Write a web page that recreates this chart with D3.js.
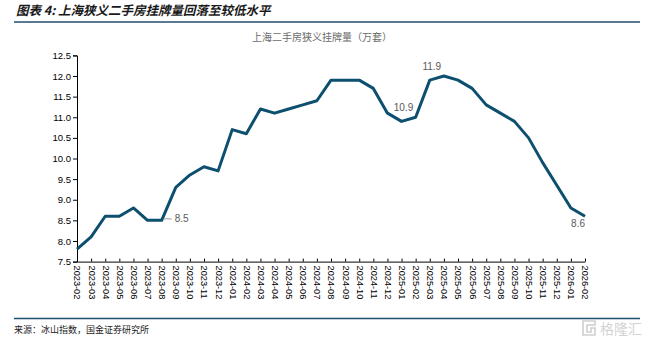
<!DOCTYPE html>
<html>
<head>
<meta charset="utf-8">
<script src="https://cdn.jsdelivr.net/npm/d3@7"></script>
<style>
  html, body { margin: 0; padding: 0; background: #fff; }
  svg { display: block; }
</style>
</head>
<body>
<svg id="chart" width="654" height="344"></svg>
<script>
// Monthly listing counts, Shanghai second-hand homes (10k units)
const months = [
  "2023-02","2023-03","2023-04","2023-05","2023-06","2023-07","2023-08","2023-09","2023-10","2023-11","2023-12",
  "2024-01","2024-02","2024-03","2024-04","2024-05","2024-06","2024-07","2024-08","2024-09","2024-10","2024-11","2024-12",
  "2025-01","2025-02","2025-03","2025-04","2025-05","2025-06","2025-07","2025-08","2025-09","2025-10","2025-11","2025-12",
  "2026-01","2026-02"
];
const listings = [
  7.8, 8.1, 8.6, 8.6, 8.8, 8.5, 8.5, 9.3, 9.6, 9.8, 9.7,
  10.7, 10.6, 11.2, 11.1, 11.2, 11.3, 11.4, 11.9, 11.9, 11.9, 11.7, 11.1,
  10.9, 11.0, 11.9, 12.0, 11.9, 11.7, 11.3, 11.1, 10.9, 10.5, 9.9, 9.35,
  8.8, 8.6
];
const yTicks = [7.5, 8.0, 8.5, 9.0, 9.5, 10.0, 10.5, 11.0, 11.5, 12.0, 12.5];
// Months that carry a value label
const labelledMonths = ["2023-08", "2025-01", "2025-03", "2026-02"];

const titleText = "图表 4: 上海狭义二手房挂牌量回落至较低水平";
const seriesName = "上海二手房狭义挂牌量（万套）";
const sourceText = "来源：冰山指数，国金证券研究所";

const svg = d3.select("#chart");
const cjk = "'Noto Sans CJK SC', 'Noto Sans', sans-serif";
const latin = "'Liberation Sans', Arial, sans-serif";

const plot = { left: 77, right: 585, top: 55.4, bottom: 261.6 };

const x = d3.scalePoint().domain(months).range([plot.left, plot.right]);
const y = d3.scaleLinear().domain([7.5, 12.5]).range([plot.bottom, plot.top]);

// Header
svg.append("text")
  .attr("x", 16).attr("y", 14.5)
  .attr("font-family", cjk).attr("font-size", 12.5)
  .attr("font-weight", "bold").attr("font-style", "italic")
  .attr("fill", "#1a1a1a")
  .text(titleText);
svg.append("line")
  .attr("x1", 14).attr("x2", 640).attr("y1", 22).attr("y2", 22)
  .attr("stroke", "#1f4e6e").attr("stroke-width", 1.6);

svg.append("text")
  .attr("x", 322).attr("y", 40.5)
  .attr("text-anchor", "middle")
  .attr("font-family", cjk).attr("font-size", 10)
  .attr("fill", "#6b6b6b")
  .text(seriesName);

// Y axis
const yAxis = svg.append("g")
  .attr("transform", `translate(${plot.left},0)`)
  .call(d3.axisLeft(y).tickValues(yTicks).tickFormat(d3.format(".1f")).tickSize(4).tickPadding(2));
yAxis.select(".domain").attr("stroke", "#000").attr("stroke-width", 1);
yAxis.selectAll(".tick line").attr("stroke", "#000");
yAxis.selectAll(".tick text")
  .attr("font-family", latin).attr("font-size", 9.5).attr("fill", "#000");

// X axis: short inward ticks, labels rotated to read downward
const xAxis = svg.append("g")
  .attr("transform", `translate(0,${plot.bottom})`)
  .call(d3.axisBottom(x).tickSizeInner(-3).tickSizeOuter(0));
xAxis.select(".domain").attr("stroke", "#000").attr("stroke-width", 1);
xAxis.selectAll(".tick line").attr("stroke", "#000");
xAxis.selectAll(".tick text")
  .attr("font-family", latin).attr("font-size", 9.2).attr("fill", "#000")
  .attr("text-anchor", "start")
  .attr("transform", "rotate(90)")
  .attr("x", 4).attr("y", 0).attr("dy", "0.33em");

// Series line
const line = d3.line()
  .x((d, i) => x(months[i]))
  .y(d => y(d));
svg.append("path")
  .datum(listings)
  .attr("d", line)
  .attr("fill", "none")
  .attr("stroke", "#0d4f6f")
  .attr("stroke-width", 3)
  .attr("stroke-linejoin", "round");

// Value labels
const fmt = d3.format(".1f");
const labelStyle = sel => sel
  .attr("font-family", latin).attr("font-size", 10).attr("fill", "#595959");

labelledMonths.forEach((m, k) => {
  const i = months.indexOf(m);
  const px = x(m), py = y(listings[i]);
  const t = svg.append("text").call(labelStyle).text(fmt(listings[i]));
  if (k === 0) {
    // leader line to the right of the point
    svg.append("line")
      .attr("x1", px + 2).attr("x2", px + 10)
      .attr("y1", py - 1.5).attr("y2", py - 1.5)
      .attr("stroke", "#9a9a9a").attr("stroke-width", 1);
    t.attr("x", px + 13).attr("y", py + 2);
  } else if (k === 3) {
    t.attr("x", px).attr("y", py + 10.5).attr("text-anchor", "end");
  } else {
    t.attr("x", px + 2).attr("y", py - 10).attr("text-anchor", "middle");
  }
});

// Footer
svg.append("line")
  .attr("x1", 14).attr("x2", 640).attr("y1", 318.5).attr("y2", 318.5)
  .attr("stroke", "#1f4e6e").attr("stroke-width", 1.4);
svg.append("text")
  .attr("x", 14).attr("y", 333)
  .attr("font-family", cjk).attr("font-size", 9)
  .attr("fill", "#222")
  .text(sourceText);

// Publisher mark
const mark = svg.append("g").attr("transform", "translate(582,320)");
mark.append("path")
  .attr("d", "M1,1 H13 V5 H5 V12 H9 V8 H13 V15 H1 Z")
  .attr("fill", "none").attr("stroke", "#cfcfcf").attr("stroke-width", 1.6);
mark.append("text")
  .attr("x", 18).attr("y", 13.5)
  .attr("font-family", cjk).attr("font-size", 14)
  .attr("fill", "#d3d3d3")
  .text("格隆汇");
</script>
</body>
</html>
